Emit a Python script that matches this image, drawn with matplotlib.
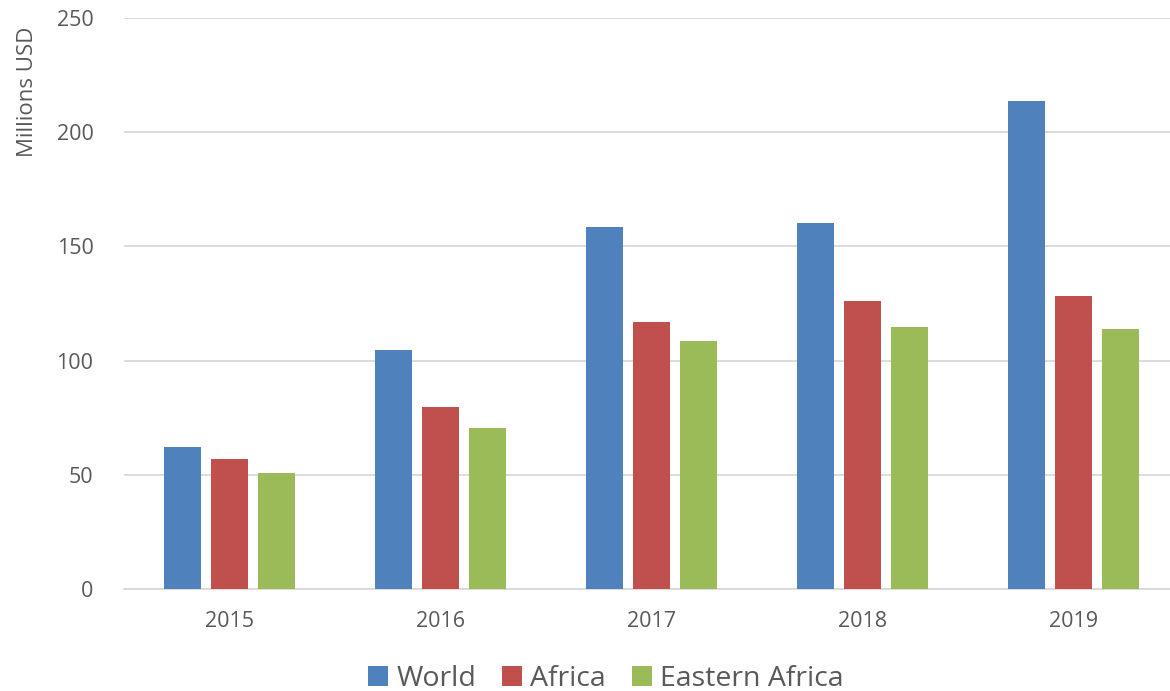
import matplotlib.pyplot as plt
import numpy as np

plt.rcParams['font.family'] = ['Open Sans', 'DejaVu Sans']

years = ['2015', '2016', '2017', '2018', '2019']
world = [62.1, 104.5, 158.3, 160.1, 213.5]
africa = [57.1, 79.6, 116.8, 126.2, 128.1]
eastern_africa = [50.7, 70.5, 108.8, 114.7, 114.0]

series = [('World', world, '#4F81BD'),
          ('Africa', africa, '#C0504D'),
          ('Eastern Africa', eastern_africa, '#9BBB59')]

W, H = 1170, 691
fig = plt.figure(figsize=(W / 100, H / 100), dpi=100)
ax = fig.add_axes([124 / W, (H - 589) / H, (1170 - 124) / W, (589 - 18) / H])

x = np.arange(len(years))
width = 0.175
step = 0.223
for i, (name, vals, col) in enumerate(series):
    ax.bar(x + (i - 1) * step, vals, width, color=col, label=name, zorder=3)

ax.set_ylim(0, 250)
ax.set_xlim(-0.5, -0.5 + 1046 / 211)
ax.set_yticks(range(0, 251, 50))
ax.set_xticks(x)
ax.set_xticklabels(years)
ax.yaxis.grid(True, color='#D9D9D9', linewidth=1.3, zorder=0)
for s in ['top', 'right', 'left']:
    ax.spines[s].set_visible(False)
ax.spines['bottom'].set_color('#D9D9D9')
ax.spines['bottom'].set_linewidth(1.3)
ax.tick_params(axis='both', length=0, colors='#595959', labelsize=15.5)
ax.tick_params(axis='y', pad=22)
ax.tick_params(axis='x', pad=16)
ax.set_ylabel('Millions USD', color='#595959', fontsize=16)
ax.yaxis.set_label_coords(-0.082, 0.87)

fig.legend(loc='center', bbox_to_anchor=(606 / W, 1 - 679 / H), ncol=3,
           frameon=False, fontsize=20.5, handlelength=0.7, handleheight=0.7,
           handletextpad=0.3, columnspacing=0.9, labelcolor='#595959')

fig.savefig('out.png', dpi=100)
